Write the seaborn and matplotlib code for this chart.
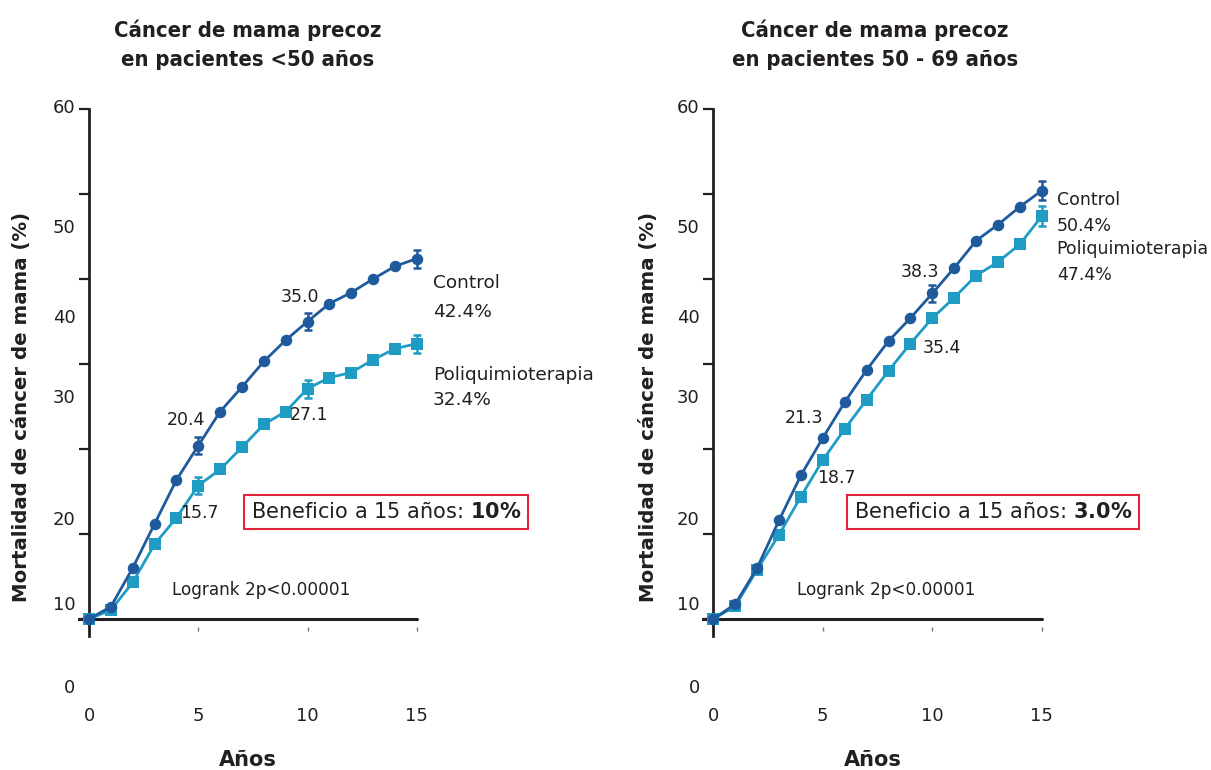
import matplotlib
matplotlib.use("Agg")
import matplotlib.pyplot as plt
import pandas as pd
import seaborn as sns
from matplotlib import font_manager as fm

# ---------------------------------------------------------------- data
years = list(range(16))
groups = ["Control", "Poliquimioterapia"]

# Early breast cancer, patients < 50 years (cumulative mortality, %)
young_control = [0, 1.45, 6.0, 11.2, 16.35, 20.4, 24.4, 27.3, 30.3, 32.8,
                 35.0, 37.1, 38.4, 40.0, 41.5, 42.4]
young_poly = [0, 1.05, 4.3, 8.8, 11.9, 15.7, 17.6, 20.2, 22.9, 24.4,
              27.1, 28.4, 29.0, 30.5, 31.8, 32.4]
young_err_control = {5: 1.0, 10: 1.0, 15: 1.05}
young_err_poly = {5: 1.05, 10: 1.05, 15: 1.05}
young_labels = [("Control", 5, "20.4"), ("Poliquimioterapia", 5, "15.7"),
                ("Control", 10, "35.0"), ("Poliquimioterapia", 10, "27.1")]
young_benefit = "10%"

# Early breast cancer, patients 50 - 69 years
older_control = [0, 1.75, 6.0, 11.6, 16.9, 21.3, 25.5, 29.3, 32.7, 35.4,
                 38.3, 41.3, 44.5, 46.4, 48.5, 50.4]
older_poly = [0, 1.5, 5.8, 9.9, 14.4, 18.7, 22.35, 25.8, 29.2, 32.4,
              35.4, 37.8, 40.4, 42.0, 44.1, 47.4]
older_err_control = {10: 1.05, 15: 1.1}
older_err_poly = {15: 1.2}
older_labels = [("Control", 5, "21.3"), ("Poliquimioterapia", 5, "18.7"),
                ("Control", 10, "38.3"), ("Poliquimioterapia", 10, "35.4")]
older_benefit = "3.0%"

ytick_text = ["60", "50", "40", "30", "20", "10", "0"]
xtick_values = [0, 5, 10, 15]

# ---------------------------------------------------------------- style
sns.set_style("white")
plt.rcParams["font.family"] = ["DejaVu Sans"]

C_CONTROL = "#1f5b9c"
C_POLY = "#1f9cc4"
C_AXIS = "#231f20"
C_TEXT = "#231f20"
C_BOX = "#e5243a"

# label placement (layout only)
ytick_text_pos = [60.1, 46.0, 35.4, 26.0, 11.6, 1.65, -8.1]
label_offsets_young = [(-12, 26), (1, -27), (-8, 25), (1, -26)]
label_offsets_older = [(-19, 20), (14, -18), (-12, 21), (10, -30)]


def condensed_bold():
    for fam, stretch in [("DejaVu Sans", "condensed"),
                         ("Liberation Sans Narrow", "normal")]:
        try:
            path = fm.findfont(fm.FontProperties(family=fam, stretch=stretch,
                                                 weight="bold"),
                               fallback_to_default=False)
        except Exception:
            continue
        low = path.lower()
        if "condensed" in low or "narrow" in low:
            return fm.FontProperties(fname=path)
    return None


title_fp = condensed_bold()

W, H = 1211, 770
fig = plt.figure(figsize=(W / 100, H / 100), dpi=100)


def fx(px):
    return px / W


def fy(py):
    return 1 - py / H


def panel(ax_rect, control, poly, err_c, err_p, labels, offsets, benefit,
          side_pos, side_x, side_size, title_lines, title_cx, ylabel_x,
          xlabel_cx, box_x):
    ax = fig.add_axes(ax_rect)
    df = pd.DataFrame({
        "Años": years * 2,
        "Mortalidad": control + poly,
        "Grupo": ["Control"] * 16 + ["Poliquimioterapia"] * 16,
    })
    sns.lineplot(data=df, x="Años", y="Mortalidad", hue="Grupo",
                 style="Grupo", hue_order=groups[::-1], style_order=groups[::-1],
                 palette={"Control": C_CONTROL, "Poliquimioterapia": C_POLY},
                 markers={"Control": "o", "Poliquimioterapia": "s"},
                 dashes=False, linewidth=2.0, markersize=8.3,
                 markeredgewidth=0, legend=False, ax=ax, clip_on=False,
                 zorder=3)

    series = {"Control": control, "Poliquimioterapia": poly}
    for grp, errs, col in [("Poliquimioterapia", err_p, C_POLY),
                           ("Control", err_c, C_CONTROL)]:
        xs = list(errs.keys())
        ys = [series[grp][x] for x in xs]
        ax.errorbar(xs, ys, yerr=list(errs.values()), fmt="none",
                    ecolor=col, elinewidth=1.8, capsize=3.2, capthick=1.8,
                    zorder=4, clip_on=False)

    for (grp, yr, txt), (dx, dy) in zip(labels, offsets):
        ax.annotate(txt, xy=(yr, series[grp][yr]), xytext=(dx, dy),
                    textcoords="offset pixels", ha="center", va="center",
                    fontsize=12.5, color=C_TEXT)

    ax.set_xlim(-0.5, 15.5)
    ax.set_ylim(-2, 60)

    # axes lines
    for s in ["top", "right"]:
        ax.spines[s].set_visible(False)
    ax.spines["left"].set_position(("data", 0))
    ax.spines["left"].set_bounds(-2, 60)
    ax.spines["left"].set_color(C_AXIS)
    ax.spines["left"].set_linewidth(2.0)
    ax.spines["bottom"].set_position(("data", -0.9))
    ax.spines["bottom"].set_visible(False)
    ax.axhline(0, xmin=0, xmax=15.5 / 16, color=C_AXIS, lw=2.2, zorder=2)

    ax.set_yticks(range(0, 61, 10))
    ax.set_yticklabels([])
    ax.tick_params(axis="y", direction="out", length=7.5, width=1.6,
                   color=C_AXIS, left=True)
    ax.set_xticks(xtick_values)
    ax.set_xticklabels([str(v) for v in xtick_values], fontsize=13,
                       color=C_TEXT)
    ax.tick_params(axis="x", direction="out", length=2.8, width=1.0,
                   color="#777777", pad=55, bottom=True)
    ax.set_xlabel("")
    ax.set_ylabel("")

    for t, y in zip(ytick_text, ytick_text_pos):
        ax.text(-0.62, y, t, ha="right", va="center", fontsize=13,
                color=C_TEXT)

    # end-of-curve labels
    for txt, y in zip(["Control", f"{control[-1]:.1f}%",
                       "Poliquimioterapia", f"{poly[-1]:.1f}%"], side_pos):
        ax.text(side_x, y, txt, ha="left", va="center", fontsize=side_size,
                color=C_TEXT)

    ax.text(3.8, 3.4, "Logrank 2p<0.00001", ha="left", va="center",
            fontsize=12.2, color=C_TEXT)
    ax.text(box_x, 12.6, "Beneficio a 15 años: $\\mathbf{" +
            benefit.replace("%", "\\%") + "}$",
            ha="center", va="center", fontsize=15, color=C_TEXT,
            bbox=dict(boxstyle="square,pad=0.33", fc="white", ec=C_BOX,
                      lw=1.5))

    # titles and axis titles
    for line, py in zip(title_lines, [30, 60]):
        if title_fp is not None:
            fig.text(fx(title_cx), fy(py), line, ha="center", va="center",
                     fontproperties=title_fp, fontsize=15.8, color=C_TEXT)
        else:
            fig.text(fx(title_cx), fy(py), line, ha="center", va="center",
                     fontweight="bold", fontsize=14.2, color=C_TEXT)
    fig.text(fx(ylabel_x), fy(407), "Mortalidad de cáncer de mama (%)",
             rotation=90, ha="center", va="center", fontsize=14.2,
             fontweight="bold", color=C_TEXT)
    fig.text(fx(xlabel_cx), fy(760), "Años", ha="center", va="center",
             fontsize=15, fontweight="bold", color=C_TEXT)
    return ax


bottom = (H - 636) / H
height = 527 / H

panel([fx(78.1), bottom, fx(349.6), height], young_control, young_poly,
      young_err_control, young_err_poly, young_labels, label_offsets_young,
      young_benefit, [39.5, 36.1, 28.7, 25.8], 15.74, 13.3,
      ["Cáncer de mama precoz", "en pacientes <50 años"], 248, 22, 248, 13.6)

panel([fx(702.35), bottom, fx(350.4), height], older_control, older_poly,
      older_err_control, older_err_poly, older_labels, label_offsets_older,
      older_benefit, [49.3, 46.2, 43.5, 40.5], 15.68, 12.5,
      ["Cáncer de mama precoz", "en pacientes 50 - 69 años"], 875, 648, 873,
      12.77)

fig.savefig("out.png", dpi=100, facecolor="white")
